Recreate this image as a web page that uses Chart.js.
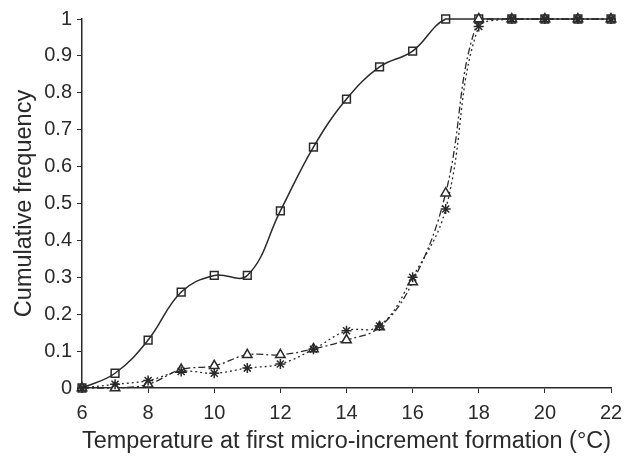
<!DOCTYPE html>
<html>
<head>
<meta charset="utf-8">
<script src="https://cdn.jsdelivr.net/npm/chart.js@4"></script>
<style>
  html, body { margin: 0; padding: 0; background: #fff; }
  #wrap { width: 625px; height: 456px; }
</style>
</head>
<body>
<div id="wrap"><canvas id="chart" width="625" height="456"></canvas></div>
<script>
// --- data ---
const temps = [6, 7, 8, 9, 10, 11, 12, 13, 14, 15, 16, 17, 18, 19, 20, 21, 22];
const squareSeries = [0, 0.04, 0.13, 0.26, 0.305, 0.305, 0.48, 0.653, 0.783, 0.87, 0.913, 1, 1, 1, 1, 1, 1];
const triangleSeries = [0, 0, 0.01, 0.05, 0.06, 0.09, 0.09, 0.106, 0.13, 0.165, 0.287, 0.528, 1, 1, 1, 1, 1];
const starSeries = [0, 0.01, 0.02, 0.045, 0.04, 0.054, 0.065, 0.105, 0.155, 0.168, 0.3, 0.485, 0.98, 1, 1, 1, 1];
const xTicks = [6, 8, 10, 12, 14, 16, 18, 20, 22];
const yTicks = [0, 0.1, 0.2, 0.3, 0.4, 0.5, 0.6, 0.7, 0.8, 0.9, 1];

const ink = '#2a2a2a';
const font = "'Liberation Sans', Arial, sans-serif";

const toPoints = vals => temps.map((t, i) => ({ x: t, y: vals[i] }));

const ctx = document.getElementById('chart').getContext('2d');
new Chart(ctx, {
    type: 'line',
    data: {
        datasets: [
            {
                data: toPoints(starSeries),
                borderColor: ink,
                borderWidth: 1.3,
                borderDash: [2, 3],
                tension: 0.4,
                pointStyle: 'star',
                pointRadius: 5,
                pointBorderWidth: 1.5,
                pointBorderColor: ink,
                pointBackgroundColor: '#fff',
                clip: false
            },
            {
                data: toPoints(triangleSeries),
                borderColor: ink,
                borderWidth: 1.3,
                borderDash: [7, 3, 2, 3],
                tension: 0.4,
                pointStyle: 'triangle',
                pointRadius: 5.5,
                pointBorderWidth: 1.5,
                pointBorderColor: ink,
                pointBackgroundColor: '#fff',
                clip: false
            },
            {
                data: toPoints(squareSeries),
                borderColor: ink,
                borderWidth: 1.5,
                tension: 0.4,
                pointStyle: 'rect',
                pointRadius: 5.5,
                pointBorderWidth: 1.5,
                pointBorderColor: ink,
                pointBackgroundColor: 'rgba(255,255,255,0)',
                clip: false
            }
        ]
    },
    options: {
        responsive: false,
        animation: false,
        layout: { padding: { left: 0, right: 14, top: 19, bottom: 0 } },
        plugins: {
            legend: { display: false },
            tooltip: { enabled: false }
        },
        scales: {
            x: {
                type: 'linear',
                min: 6,
                max: 22,
                afterBuildTicks: s => { s.ticks = xTicks.map(v => ({ value: v })); },
                afterFit: s => {
                    s.height = 68;
                    s.paddingLeft = 0;
                    s.paddingRight = 0;
                },
                grid: { drawOnChartArea: false, drawTicks: true, tickLength: 5, color: ink },
                border: { display: true, color: ink, width: 1.5 },
                ticks: { color: ink, font: { family: font, size: 20 }, padding: 8, maxRotation: 0 },
                title: {
                    display: true,
                    text: 'Temperature at first micro-increment formation (°C)',
                    color: ink,
                    font: { family: font, size: 23.5 },
                    padding: { top: 2, bottom: 0 }
                }
            },
            y: {
                min: 0,
                max: 1,
                afterBuildTicks: s => { s.ticks = yTicks.map(v => ({ value: v })); },
                afterFit: s => {
                    s.width = 82;
                    s.paddingTop = 0;
                    s.paddingBottom = 0;
                },
                grid: { drawOnChartArea: false, drawTicks: true, tickLength: 5, color: ink },
                border: { display: true, color: ink, width: 1.5 },
                ticks: {
                    color: ink,
                    font: { family: font, size: 20 },
                    padding: 5,
                    callback: v => String(v)
                },
                title: {
                    display: true,
                    text: 'Cumulative frequency',
                    color: ink,
                    font: { family: font, size: 23.5 },
                    padding: { top: 10, bottom: 4 }
                }
            }
        }
    }
});
</script>
</body>
</html>
